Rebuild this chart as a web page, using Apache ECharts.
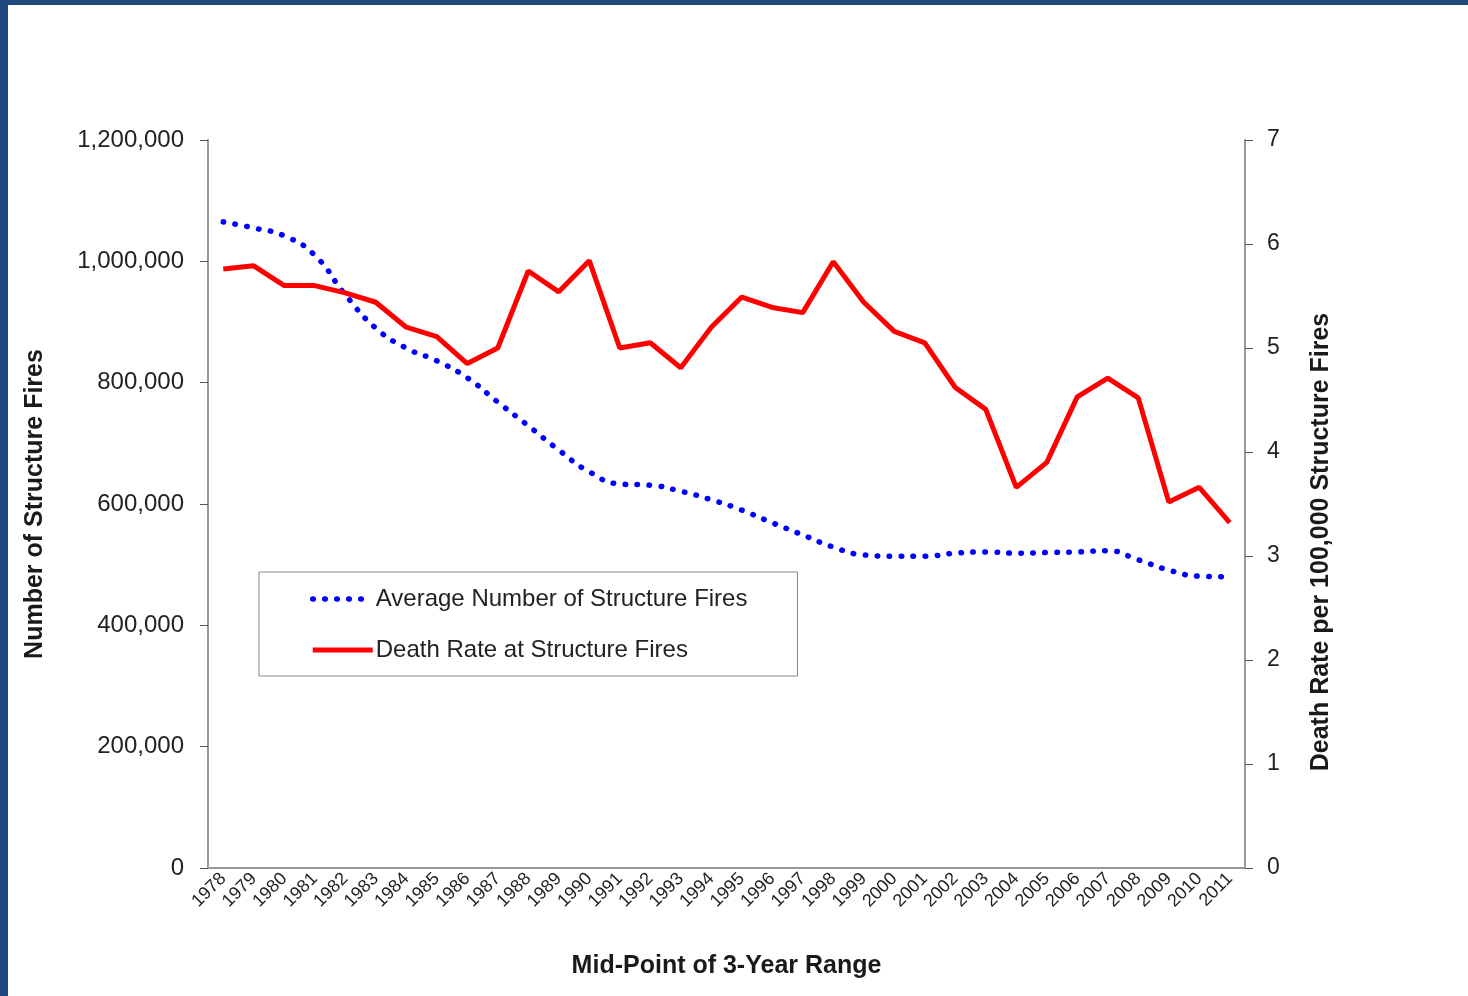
<!DOCTYPE html>
<html>
<head>
<meta charset="utf-8">
<script src="https://cdn.jsdelivr.net/npm/echarts@6/dist/echarts.min.js"></script>
<style>
  html, body { margin: 0; padding: 0; background: #fff; }
  #chart { width: 1468px; height: 996px; }
</style>
</head>
<body>
<div id="chart"></div>
<script>
  // mid-point years of each 3-year range
  var years = ['1978','1979','1980','1981','1982','1983','1984','1985','1986','1987',
    '1988','1989','1990','1991','1992','1993','1994','1995','1996','1997',
    '1998','1999','2000','2001','2002','2003','2004','2005','2006','2007',
    '2008','2009','2010','2011'];

  var avgFires = [1065000, 1055000, 1042000, 1010000, 945000, 890000, 857000, 836000, 808000, 768000,
    729000, 689000, 653000, 633000, 631000, 621000, 607000, 590000, 569000, 549000,
    529000, 516000, 514000, 514000, 519000, 521000, 519000, 520000, 521000, 523000,
    508000, 491000, 481000, 480000];

  var deathRate = [5.76, 5.79, 5.60, 5.60, 5.53, 5.44, 5.20, 5.11, 4.85, 5.00,
    5.74, 5.54, 5.84, 5.00, 5.05, 4.81, 5.20, 5.49, 5.39, 5.34,
    5.83, 5.44, 5.16, 5.05, 4.62, 4.41, 3.66, 3.90, 4.53, 4.71,
    4.52, 3.52, 3.66, 3.32];

  var chart = echarts.init(document.getElementById('chart'));

  var font = 'Liberation Sans, Arial';
  var titleStyle = { fontFamily: font, fontWeight: 'bold', fontSize: 25, color: '#1a1a1a' };
  var dotted = { color: '#0000ff', width: 5.5, type: [0.5, 11.5], cap: 'round' };
  var solid = { color: '#ff0000', width: 5 };

  var option = {
    animation: false,
    backgroundColor: '#fff',
    graphic: [
      { type: 'rect', left: 0, top: 0, shape: { width: 1468, height: 5 }, style: { fill: '#1f497d' } },
      { type: 'rect', left: 0, top: 0, shape: { width: 8, height: 996 }, style: { fill: '#1f497d' } }
    ],
    grid: { left: 208, right: 223, top: 140, bottom: 128 },
    legend: {
      orient: 'vertical',
      left: 259,
      top: 572,
      padding: [15, 50, 14, 51],
      itemWidth: 60,
      itemHeight: 22,
      itemGap: 27,
      borderColor: '#888',
      borderWidth: 1,
      itemStyle: { opacity: 0 },
      textStyle: { fontFamily: font, fontSize: 24, color: '#222', padding: [0, 0, 0, -2] },
      data: [
        { name: 'Average Number of Structure Fires', lineStyle: dotted },
        { name: 'Death Rate at Structure Fires', lineStyle: solid }
      ]
    },
    xAxis: {
      type: 'category',
      data: years,
      name: 'Mid-Point of 3-Year Range',
      nameLocation: 'middle',
      nameGap: 86,
      nameTextStyle: titleStyle,
      axisLine: { lineStyle: { color: '#999', width: 2 } },
      axisTick: { length: 8, lineStyle: { color: '#555' } },
      axisLabel: { rotate: 45, interval: 0, fontSize: 18, margin: 8, fontFamily: font, color: '#222' }
    },
    yAxis: [
      {
        type: 'value',
        min: 0, max: 1200000, interval: 200000,
        name: 'Number of Structure Fires',
        nameLocation: 'middle',
        nameGap: 160,
        nameTextStyle: titleStyle,
        axisLine: { show: true, lineStyle: { color: '#999', width: 2 } },
        axisTick: { show: true, length: 8, lineStyle: { color: '#555' } },
        splitLine: { show: false },
        axisLabel: {
          fontSize: 24, margin: 24, fontFamily: font, color: '#222',
          formatter: function (v) { return v.toLocaleString('en-US'); }
        }
      },
      {
        type: 'value',
        min: 0, max: 7, interval: 1,
        name: 'Death Rate per 100,000 Structure Fires',
        nameLocation: 'middle',
        nameGap: 64,
        nameTextStyle: Object.assign({ padding: [0, 76, 0, 0] }, titleStyle),
        axisLine: { show: true, lineStyle: { color: '#999', width: 2 } },
        axisTick: { show: true, length: 8, lineStyle: { color: '#555' } },
        splitLine: { show: false },
        axisLabel: { fontSize: 23, margin: 22, fontFamily: font, color: '#222' }
      }
    ],
    series: [
      {
        name: 'Average Number of Structure Fires',
        type: 'line',
        yAxisIndex: 0,
        data: avgFires,
        smooth: true,
        symbol: 'none',
        color: '#0000ff',
        lineStyle: dotted
      },
      {
        name: 'Death Rate at Structure Fires',
        type: 'line',
        yAxisIndex: 1,
        data: deathRate,
        symbol: 'none',
        color: '#ff0000',
        lineStyle: solid
      }
    ]
  };

  chart.setOption(option);
</script>
</body>
</html>
